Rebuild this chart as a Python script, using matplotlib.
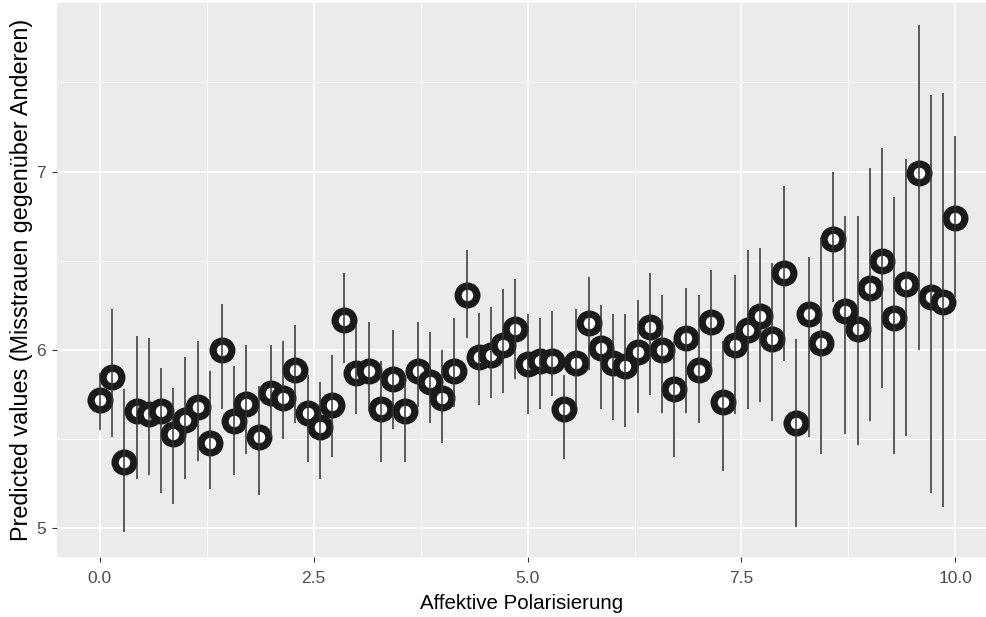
import matplotlib
matplotlib.use('Agg')
import matplotlib.pyplot as plt
from matplotlib.ticker import MultipleLocator

# Affektive Polarisierung (x) and predicted values with lower / upper bounds
polarisierung = [
    0.000, 0.143, 0.286, 0.429, 0.571, 0.714, 0.857,
    1.000, 1.143, 1.286, 1.429, 1.571, 1.714, 1.857,
    2.000, 2.143, 2.286, 2.429, 2.571, 2.714, 2.857,
    3.000, 3.143, 3.286, 3.429, 3.571, 3.714, 3.857,
    4.000, 4.143, 4.286, 4.429, 4.571, 4.714, 4.857,
    5.000, 5.143, 5.286, 5.429, 5.571, 5.714, 5.857,
    6.000, 6.143, 6.286, 6.429, 6.571, 6.714, 6.857,
    7.000, 7.143, 7.286, 7.429, 7.571, 7.714, 7.857,
    8.000, 8.143, 8.286, 8.429, 8.571, 8.714, 8.857,
    9.000, 9.143, 9.286, 9.429, 9.571, 9.714, 9.857,
    10.000,
]
predicted = [
    5.72, 5.85, 5.37, 5.66, 5.64, 5.66, 5.53,
    5.61, 5.68, 5.48, 6.00, 5.60, 5.70, 5.51,
    5.76, 5.73, 5.89, 5.65, 5.57, 5.69, 6.17,
    5.87, 5.88, 5.67, 5.84, 5.66, 5.88, 5.82,
    5.73, 5.88, 6.31, 5.96, 5.97, 6.03, 6.12,
    5.92, 5.94, 5.94, 5.67, 5.93, 6.15, 6.01,
    5.93, 5.91, 5.99, 6.13, 6.00, 5.78, 6.07,
    5.89, 6.16, 5.71, 6.03, 6.11, 6.19, 6.06,
    6.43, 5.59, 6.20, 6.04, 6.62, 6.22, 6.12,
    6.35, 6.50, 6.18, 6.37, 6.99, 6.30, 6.27,
    6.74,
]
lower = [
    5.55, 5.51, 4.98, 5.28, 5.30, 5.20, 5.14,
    5.28, 5.38, 5.22, 5.67, 5.30, 5.42, 5.19,
    5.51, 5.50, 5.59, 5.37, 5.28, 5.40, 5.93,
    5.64, 5.66, 5.37, 5.56, 5.37, 5.68, 5.59,
    5.48, 5.68, 6.07, 5.69, 5.73, 5.76, 5.84,
    5.64, 5.67, 5.74, 5.39, 5.68, 5.89, 5.67,
    5.61, 5.57, 5.65, 5.75, 5.65, 5.40, 5.65,
    5.59, 5.86, 5.32, 5.64, 5.67, 5.71, 5.60,
    5.94, 5.01, 5.51, 5.42, 6.27, 5.53, 5.47,
    5.60, 5.79, 5.42, 5.52, 6.00, 5.20, 5.12,
    6.30,
]
upper = [
    5.87, 6.23, 5.78, 6.08, 6.07, 5.90, 5.79,
    5.96, 6.05, 5.88, 6.26, 5.91, 6.03, 5.80,
    6.03, 6.05, 6.14, 5.86, 5.82, 5.97, 6.43,
    6.14, 6.16, 5.94, 6.11, 5.86, 6.16, 6.10,
    6.00, 6.18, 6.56, 6.21, 6.24, 6.34, 6.40,
    6.20, 6.18, 6.22, 5.86, 6.23, 6.41, 6.25,
    6.20, 6.20, 6.28, 6.43, 6.31, 6.05, 6.35,
    6.31, 6.45, 6.05, 6.42, 6.56, 6.57, 6.49,
    6.92, 6.06, 6.52, 6.63, 7.00, 6.75, 6.75,
    7.02, 7.13, 6.86, 7.07, 7.82, 7.43, 7.44,
    7.20,
]

plt.rcParams['font.family'] = ['Liberation Sans', 'DejaVu Sans']

fig = plt.figure(figsize=(9.87, 6.17), dpi=100)
ax = fig.add_axes([0.0578, 0.0972, 0.9422, 0.8978])

ax.set_facecolor("#EBEBEB")
for s in ax.spines.values():
    s.set_visible(False)

ax.plot(polarisierung, predicted, linestyle="none", marker="o", markersize=13.5,
        markerfacecolor="white", markeredgecolor="#1a1a1a", markeredgewidth=5.2, zorder=3)
ax.vlines(polarisierung, lower, upper, color="#333333", linewidth=1.1, zorder=4)

ax.set_xlim(-0.5, 10.37)
ax.set_ylim(4.84, 7.945)
ax.xaxis.set_major_locator(MultipleLocator(2.5))
ax.xaxis.set_minor_locator(MultipleLocator(1.25))
ax.yaxis.set_major_locator(MultipleLocator(1))
ax.yaxis.set_minor_locator(MultipleLocator(0.5))
ax.set_xticks([0, 2.5, 5, 7.5, 10])
ax.set_xticklabels(["0.0", "2.5", "5.0", "7.5", "10.0"])
ax.set_yticks([5, 6, 7])
ax.set_yticklabels(["5", "6", "7"])

ax.grid(which="major", color="white", linewidth=1.1, zorder=0)
ax.grid(which="minor", color="white", linewidth=0.55, zorder=0)
ax.set_axisbelow(True)
ax.tick_params(which="major", length=3.5, width=0.8, color="#333333",
               labelcolor="#4D4D4D", labelsize=12.5)
ax.tick_params(axis="x", which="major", pad=6.5)
ax.tick_params(axis="y", which="major", pad=4.5)
ax.tick_params(which="minor", length=0)

ax.set_xlabel("Affektive Polarisierung", fontsize=14.8, labelpad=6)
ax.set_ylabel("Predicted values (Misstrauen gegenüber Anderen)", fontsize=16.8, labelpad=2)

plt.savefig("out.png", dpi=100)
plt.close()
